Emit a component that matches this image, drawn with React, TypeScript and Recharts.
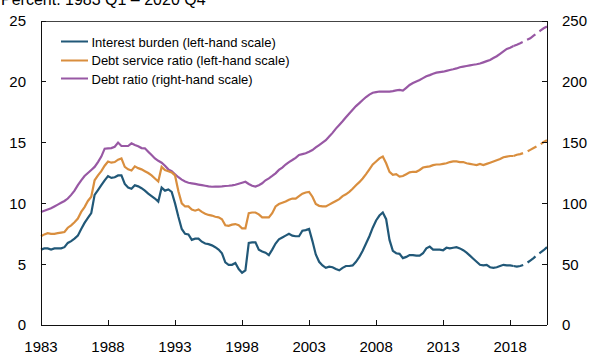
import { LineChart, Line, XAxis, YAxis, ReferenceLine } from 'recharts';

// Quarterly, 1983 Q1 - 2020 Q4 (4 values per row = one year)
const START_YEAR = 1983;
const FORECAST_FROM = 141; // index of 2018 Q2, dashed from here on

const interestBurden = [
  6.2, 6.3, 6.3, 6.2,
  6.3, 6.3, 6.3, 6.4,
  6.75, 6.9, 7.1, 7.35,
  7.9, 8.4, 8.8, 9.2,
  10.7, 11.1, 11.5, 11.9,
  12.25, 12.1, 12.15, 12.3,
  12.3, 11.6, 11.3, 11.2,
  11.5, 11.4, 11.25, 11.05,
  10.8, 10.6, 10.4, 10.15,
  11.3, 11.05, 11.15, 10.95,
  10.0, 8.9, 7.9, 7.5,
  7.45, 7.0, 7.1, 7.1,
  6.85, 6.7, 6.65, 6.55,
  6.4, 6.2, 5.9, 5.15,
  4.95, 4.95, 5.1, 4.6,
  4.3, 4.5, 6.75, 6.8,
  6.8, 6.2, 6.05, 5.95,
  5.75, 6.2, 6.7, 7.05,
  7.2, 7.35, 7.5, 7.35,
  7.3, 7.3, 7.75, 7.8,
  7.9, 6.9, 5.8, 5.2,
  4.9, 4.7, 4.8, 4.75,
  4.6, 4.5, 4.7, 4.85,
  4.85, 4.9, 5.2, 5.6,
  6.1, 6.7, 7.3, 8.0,
  8.6, 9.0, 9.25, 8.7,
  7.0, 6.1, 5.9, 5.85,
  5.5, 5.6, 5.75, 5.75,
  5.7, 5.7, 5.9, 6.3,
  6.45, 6.2, 6.2, 6.2,
  6.15, 6.35, 6.3, 6.35,
  6.4, 6.3, 6.15, 5.95,
  5.7, 5.45, 5.2, 4.95,
  4.9, 4.95, 4.75, 4.7,
  4.75, 4.85, 4.95, 4.9,
  4.9, 4.85, 4.8, 4.85,
  4.95, 5.1, 5.3, 5.5,
  5.75, 5.95, 6.15, 6.4,
];

const debtServiceRatio = [
  7.3, 7.45, 7.55, 7.5,
  7.5, 7.55, 7.6, 7.65,
  8.0, 8.2, 8.45, 8.75,
  9.3, 9.7, 10.2, 10.55,
  11.9, 12.3, 12.65, 13.1,
  13.45, 13.35, 13.4, 13.6,
  13.7, 13.0, 12.8, 12.7,
  13.05, 12.9, 12.8, 12.65,
  12.5, 12.3, 12.05, 11.8,
  13.0, 12.75, 12.65, 12.55,
  12.3, 11.0, 10.0, 9.75,
  9.75, 9.5, 9.4, 9.5,
  9.3, 9.15, 9.05, 9.0,
  8.9, 8.85, 8.7, 8.2,
  8.15, 8.25, 8.3, 8.2,
  7.95, 7.95, 9.2, 9.25,
  9.25, 9.1, 8.85, 8.85,
  8.85, 9.2, 9.75, 9.95,
  10.05, 10.15, 10.3, 10.4,
  10.4, 10.6, 10.8, 10.9,
  10.95, 10.55, 9.95, 9.8,
  9.75, 9.75, 9.9, 10.05,
  10.2, 10.35, 10.6, 10.75,
  10.95, 11.2, 11.5, 11.75,
  12.05, 12.4, 12.8, 13.2,
  13.45, 13.7, 13.85, 13.3,
  12.6, 12.35, 12.4, 12.2,
  12.25, 12.4, 12.55, 12.6,
  12.6, 12.75, 12.95, 13.0,
  13.05, 13.15, 13.2, 13.2,
  13.25, 13.3, 13.4, 13.45,
  13.45, 13.4, 13.4, 13.3,
  13.25, 13.2, 13.15, 13.25,
  13.15, 13.25, 13.35, 13.45,
  13.55, 13.65, 13.8, 13.85,
  13.9, 13.9, 14.0, 14.05,
  14.15, 14.25, 14.4, 14.55,
  14.7, 14.85, 15.05, 15.2,
];

const debtRatio = [
  93, 94, 95, 96,
  97.5, 99, 100.5, 102,
  104, 107, 110.5, 115,
  119, 122.5, 125, 127.5,
  130, 134, 138.5, 145,
  145.3, 145.5, 146.6, 150,
  147.2, 147.2, 147.2, 149.4,
  148, 147, 145.5, 145.3,
  142.5, 139.8, 137, 135,
  133.5, 131, 128, 126.5,
  124, 121.5, 119.5, 118,
  117, 116.5, 116, 115.5,
  115, 114.5, 114, 113.7,
  113.8, 113.8, 114, 114.3,
  114.5, 114.8, 115.3, 116.2,
  117, 117.8, 116, 114.5,
  113.8, 115, 116.5, 119,
  120.6, 122.6, 124.7, 127.5,
  129.5, 132, 134, 135.7,
  137.5, 139.8, 140.5, 141.2,
  142.5, 143.9, 146, 148,
  150, 152, 155, 158,
  161.5, 164.5, 167.5, 170.8,
  174, 177, 180, 182.5,
  185, 187.5, 189.5, 191,
  191.5, 192, 192, 192,
  192, 192.4, 193, 193.3,
  192.7, 195, 197.4, 199,
  200.3, 201.5, 203, 204.5,
  205.5, 206.6, 207.5, 208,
  208.3, 209, 209.7, 210.3,
  211, 212, 212.5, 213,
  213.5, 214, 214.4, 215,
  216, 217, 218, 219.5,
  221, 223, 225, 227,
  228, 229.4, 230.5, 231.7,
  233, 234.5, 235.8, 238,
  240, 242, 244, 245.5,
];

const yearTicks = [1983, 1988, 1993, 1998, 2003, 2008, 2013, 2018];
const leftTicks = [0, 5, 10, 15, 20, 25];
const rightTicks = [0, 50, 100, 150, 200, 250];

const SERIES = [
  { key: 'dr', name: 'Debt ratio (right-hand scale)', color: '#9858a4', axis: 'right', values: debtRatio },
  { key: 'dsr', name: 'Debt service ratio (left-hand scale)', color: '#d98e3e', axis: 'left', values: debtServiceRatio },
  { key: 'ib', name: 'Interest burden (left-hand scale)', color: '#215878', axis: 'left', values: interestBurden },
];
const LEGEND_ORDER = ['ib', 'dsr', 'dr'];

const data = interestBurden.map((_, i) => {
  const row: Record<string, number | null> = { t: START_YEAR + i / 4 };
  SERIES.forEach((s) => {
    row[s.key] = i <= FORECAST_FROM ? s.values[i] : null;
    row[s.key + 'F'] = i >= FORECAST_FROM ? s.values[i] : null;
  });
  return row;
});

const FONT = '"Liberation Sans", Arial, Helvetica, sans-serif';
const AXIS = '#111';
const tickStyle = { fill: '#000', fontSize: 15, fontFamily: FONT };
const axisLineStyle = { stroke: AXIS, shapeRendering: 'crispEdges' };

export default function App() {
  return (
    <div
      style={{
        position: 'absolute',
        left: 0,
        top: 0,
        width: 590,
        height: 354,
        overflow: 'hidden',
        background: '#fff',
        fontFamily: FONT,
      }}
    >
      <div
        style={{
          position: 'absolute',
          left: 1,
          top: -8.5,
          fontSize: 16,
          lineHeight: '16px',
          color: '#000',
          whiteSpace: 'nowrap',
        }}
      >
        Percent. 1983 Q1 – 2020 Q4
      </div>

      <LineChart width={590} height={354} data={data} margin={{ top: 21, right: 0, bottom: 0, left: 0 }}>
        <XAxis
          type="number"
          dataKey="t"
          domain={[1983, 2020.75]}
          ticks={yearTicks}
          interval={0}
          height={29}
          tickSize={-5}
          tickMargin={21}
          tick={tickStyle}
          axisLine={axisLineStyle}
          tickLine={axisLineStyle}
        />
        <YAxis
          yAxisId="left"
          domain={[0, 25]}
          ticks={leftTicks}
          interval={0}
          width={41}
          tickSize={-5}
          tickMargin={20}
          tick={tickStyle}
          axisLine={axisLineStyle}
          tickLine={axisLineStyle}
        />
        <YAxis
          yAxisId="right"
          orientation="right"
          domain={[0, 250]}
          ticks={rightTicks}
          interval={0}
          width={43}
          tickSize={-5}
          tickMargin={20}
          tick={tickStyle}
          axisLine={axisLineStyle}
          tickLine={axisLineStyle}
        />
        <ReferenceLine yAxisId="left" y={25} stroke="#444" strokeWidth={1} shapeRendering="crispEdges" />
        {SERIES.map((s) => [
          <Line
            key={s.key}
            yAxisId={s.axis}
            dataKey={s.key}
            type="linear"
            stroke={s.color}
            strokeWidth={2.2}
            dot={false}
            activeDot={false}
            isAnimationActive={false}
          />,
          <Line
            key={s.key + 'F'}
            yAxisId={s.axis}
            dataKey={s.key + 'F'}
            type="linear"
            stroke={s.color}
            strokeWidth={2.2}
            strokeDasharray="10 5"
            dot={false}
            activeDot={false}
            isAnimationActive={false}
          />,
        ])}
      </LineChart>

      <div style={{ position: 'absolute', left: 61, top: 33.5 }}>
        {LEGEND_ORDER.map((k) => {
          const s = SERIES.find((x) => x.key === k)!;
          return (
            <div key={k} style={{ display: 'flex', alignItems: 'center', height: 18.7 }}>
              <div
                style={{
                  width: 27,
                  height: 2,
                  background: s.color,
                  marginRight: 3.5,
                  transform: 'translateY(-1.5px)',
                }}
              />
              <span style={{ fontSize: 13, lineHeight: '18.7px', color: '#000', whiteSpace: 'nowrap' }}>
                {s.name}
              </span>
            </div>
          );
        })}
      </div>
    </div>
  );
}
